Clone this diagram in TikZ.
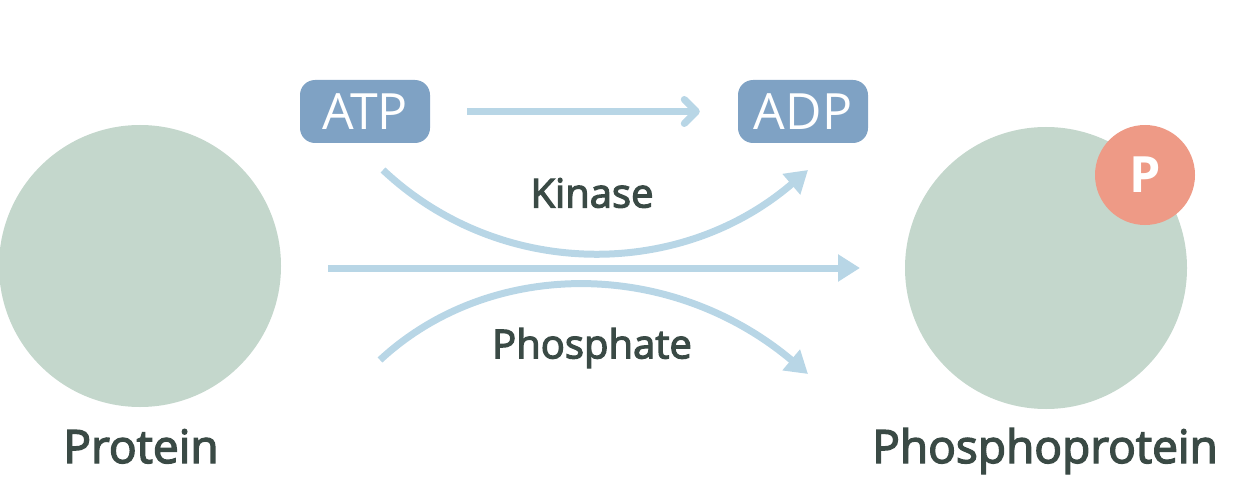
\documentclass[tikz,border=0pt]{standalone}
\usepackage{fontspec}
\setmainfont{Open Sans}
\newfontfamily\semi{Open Sans}[FakeBold=3]
\usetikzlibrary{arrows.meta}
\definecolor{prot}{HTML}{C4D7CC}
\definecolor{boxc}{HTML}{7FA2C4}
\definecolor{arr}{HTML}{B8D6E6}
\definecolor{txt}{HTML}{3A4A45}
\definecolor{pc}{HTML}{EE9A86}
\begin{document}
\begin{tikzpicture}[x=1pt,y=-1pt,
  protein/.style={circle,fill=prot,minimum size=282pt,inner sep=0pt},
  mol/.style={rounded corners=15pt,fill=boxc,minimum width=130pt,minimum height=63pt,inner sep=0pt,text=white,font=\fontsize{50}{58}\selectfont},
  lbl/.style={text=txt,font=\semi\fontsize{46}{54}\selectfont,inner sep=0pt,anchor=base},
  mid/.style={text=txt,font=\semi\fontsize{40}{48}\selectfont,inner sep=0pt},
  flow/.style={draw=arr,line width=7pt},
  headT/.style={-{Triangle[length=22pt,width=26pt]}},
  headB/.style={-{Straight Barb[length=12pt,width=24pt,line cap=round,round]}}]
\useasboundingbox (0,0) rectangle (1250,500);
\node[protein] (prot) at (140,266) {};
\node[protein] (phos) at (1046,268) {};
\node[circle,fill=pc,minimum size=100pt,inner sep=0pt,text=white,font=\bfseries\fontsize{50}{58}\selectfont] (p) at (1145,175) {P};
\node[lbl] (protl) at (141,463) {Protein};
\node[lbl] (phosl) at (1045,463) {Phosphoprotein};
\node[mol] (atp) at (365,111.5) {ATP};
\node[mol] (adp) at (803,111.5) {ADP};
\node[mid] (kin) at (592,193) {Kinase};
\node[mid] (pho) at (592,348) {Phosphate};
\draw[flow,headB,shorten <=37pt,shorten >=38pt] (atp.east) -- (adp.west);
\coordinate (ms) at (328,268);
\coordinate (me) at (860,268);
\draw[flow,headT] (ms) -- (me);
\coordinate (ks) at (383,170);
\coordinate (ke) at (808,170);
\draw[flow,headT] (ks) .. controls (500,280) and (680,280) .. (ke);
\coordinate (ps) at (380,360);
\coordinate (pe) at (808,374);
\draw[flow,headT] (ps) .. controls (490,258) and (670,258) .. (pe);
\end{tikzpicture}
\end{document}
